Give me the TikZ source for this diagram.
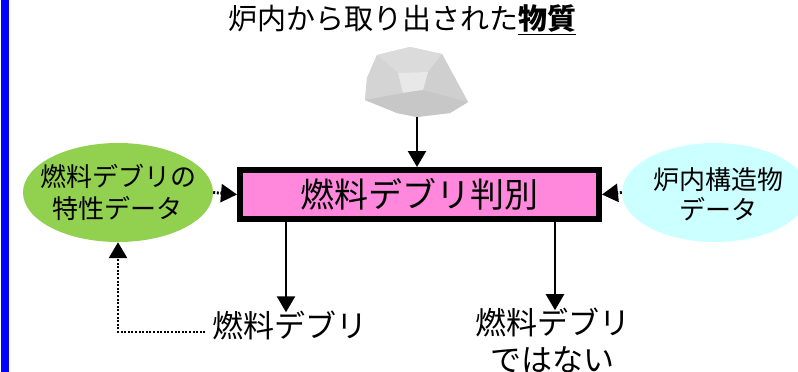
\documentclass[tikz,border=0pt]{standalone}
\usepackage{fontspec}
\setmainfont{Noto Sans CJK JP}
\usetikzlibrary{arrows.meta,shapes.geometric,calc}
\definecolor{edgeblue}{RGB}{0,0,255}
\definecolor{boxpink}{RGB}{255,136,221}
\definecolor{leafgreen}{RGB}{146,208,80}
\definecolor{palecyan}{RGB}{204,255,255}
\tikzset{
  fs/.style={font=\fontsize{#1}{#1}\selectfont},
  headtip/.style={-{Triangle[length=16pt,width=18pt]}},
  flow/.style={headtip,line width=2.4pt},
  dotflow/.style={headtip,line width=2.8pt,dash pattern=on 2pt off 1.6pt},
  blob/.style={ellipse,draw=none,inner sep=0pt},
}
\begin{document}
\begin{tikzpicture}[x=1pt,y=-1pt]
\useasboundingbox (0,0) rectangle (798,372);
\fill[white] (0,0) rectangle (798,372);
\begin{scope}
\clip (0,0) rectangle (798,372);

% left margin bar
\fill[edgeblue] (1,0) rectangle (9,372);

% heading
\node[fs=29] (title) at (402,20) {炉内から取り出された\underline{\textbf{物質}}};

% the retrieved lump
\fill[black!15] (377,55) -- (410,47) -- (442,54) -- (468,102) -- (450,113) -- (417,117) -- (397,113) -- (365,100) -- (367,78) -- cycle;
\fill[black!14] (377,55) -- (410,47) -- (442,54) -- (428,72) -- (398,73) -- cycle;
\fill[black!17] (367,78) -- (377,55) -- (398,73) -- (403,93) -- (365,100) -- cycle;
\fill[black!19] (442,54) -- (468,102) -- (423,90) -- (428,72) -- cycle;
\fill[black!9] (398,73) -- (428,72) -- (423,90) -- (403,93) -- cycle;
\fill[black!22] (365,100) -- (403,93) -- (423,90) -- (468,102) -- (450,113) -- (417,117) -- (397,113) -- cycle;
\coordinate (rock) at (417,117);

% central judgement box
\node[draw=black,fill=boxpink,line width=6pt,minimum width=359pt,minimum height=49pt,inner sep=0pt,fs=34] (judge) at (419.5,194.5) {燃料デブリ判別};

% side data sources (shape first, then its two-line caption)
\node[blob,fill=leafgreen,minimum width=190pt,minimum height=99pt] (props) at (118,192.5) {};
\node[fs=26,align=center] (propstext) at (props.center) {燃料デブリの\\[6pt]特性データ};
\node[blob,fill=palecyan,minimum width=186pt,minimum height=99pt] (core) at (715,192.5) {};
\node[fs=26,align=center] (coretext) at (718,194) {炉内構造物\\[4pt]データ};

% outcomes
\node[fs=31,inner sep=2pt] (isdebris) at (290,325) {燃料デブリ};
\node[fs=31,inner sep=2pt,align=center] (notdebris) at (552.5,341) {燃料デブリ\\[6pt]ではない};

% connectors
\draw[flow] (rock) -- (rock |- judge.north);
\draw[dotflow] (props.east) -- (judge.west);
\draw[dotflow] (core.west) -- (judge.east);
\draw[flow] (judge.south -| isdebris) ++(-4,0) coordinate (l1) -- ($(l1 |- isdebris.north)+(0,4)$);
\draw[flow] (judge.south -| notdebris) ++(2.5,0) coordinate (r1) -- ($(r1 |- notdebris.north)+(0,4)$);
\draw[dotflow] ($(isdebris.west)+(-5,7)$) -| (props.south);
\end{scope}
\end{tikzpicture}
\end{document}
